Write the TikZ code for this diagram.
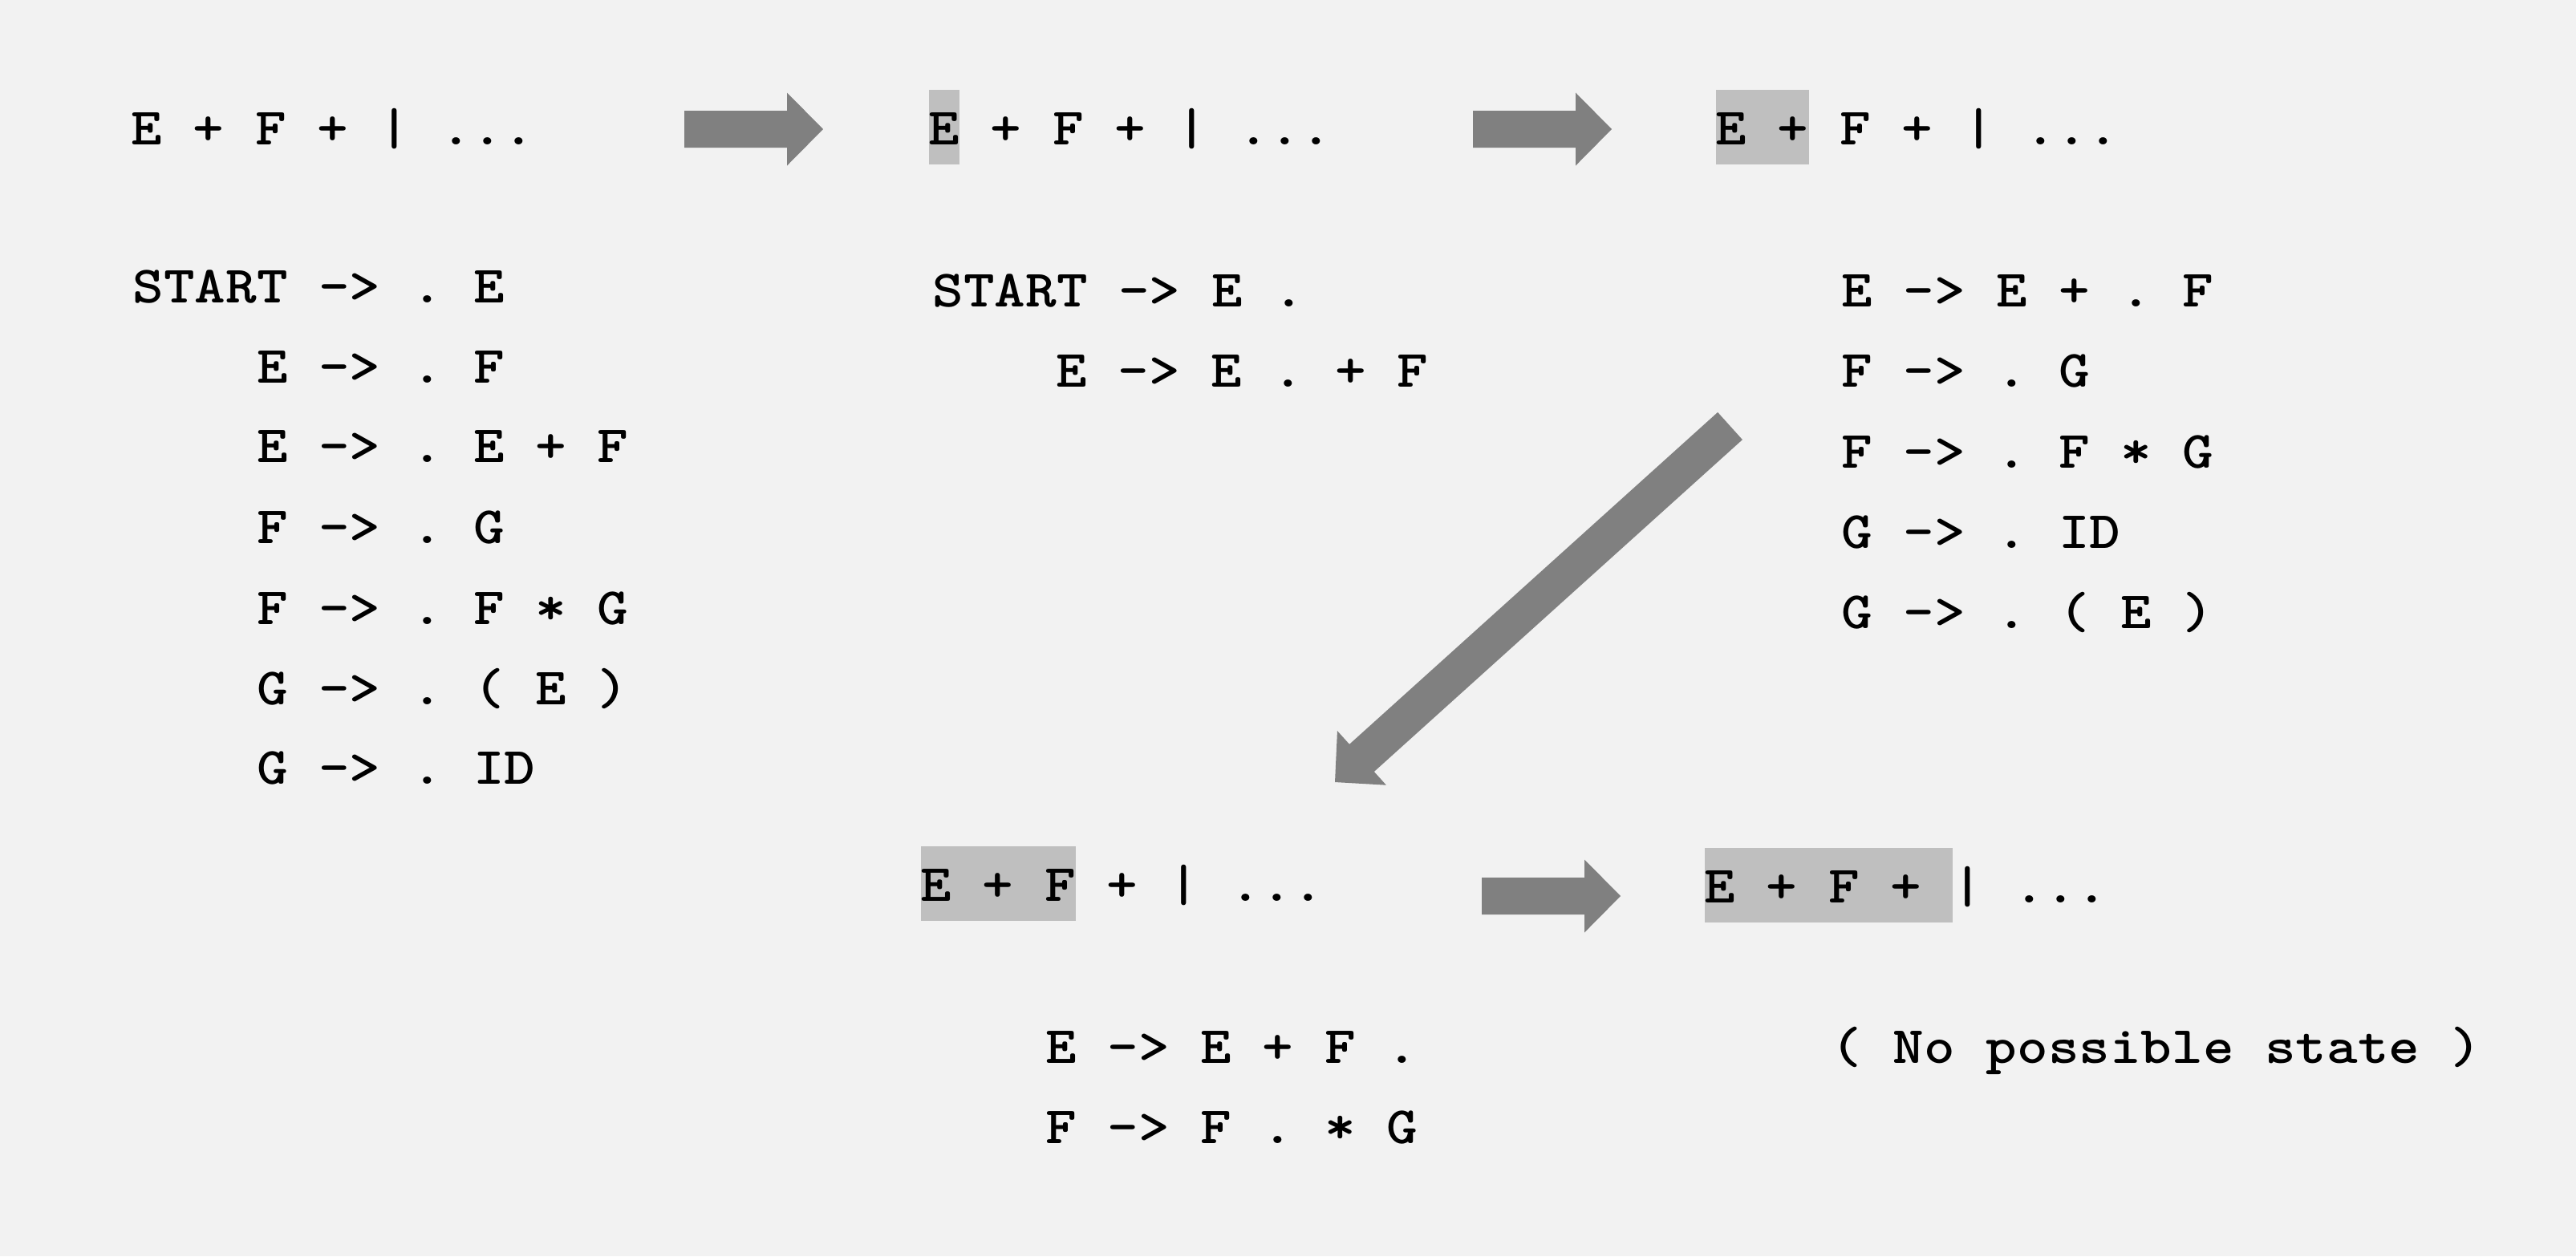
\documentclass[tikz,border=0pt]{standalone}
\usepackage{fontspec}
\usetikzlibrary{calc}
\newfontfamily\codefont{lmmonolt10-bold.otf}[FakeStretch=1.125, WordSpace={1,0,0}, PunctuationSpace=WordSpace]
\definecolor{bgc}{RGB}{242,242,242}
\definecolor{hlc}{RGB}{191,191,191}
\definecolor{arc}{RGB}{128,128,128}
\newcommand\hlx[1]{{\setlength{\fboxsep}{0pt}\colorbox{hlc}{\rule[-0.245cm]{0pt}{0.925cm}#1}}}
\newcommand\blockarrow[2]{%
  \coordinate (#1-hb) at ($(#2)!0.45cm!(#1)$);
  \fill[arc] ($(#1)!0.23cm!90:(#2)$) -- ($(#1-hb)!0.23cm!90:(#2)$) -- ($(#1-hb)!0.455cm!90:(#2)$) -- (#2)
    -- ($(#1-hb)!0.455cm!-90:(#2)$) -- ($(#1-hb)!0.23cm!-90:(#2)$) -- ($(#1)!0.23cm!-90:(#2)$) -- cycle;
}
\begin{document}
\begin{tikzpicture}[
  code/.style={font=\codefont\fontsize{18.6pt}{22pt}\selectfont\frenchspacing, inner sep=0pt, anchor=base west, text=black}]
\fill[bgc] (0,0) rectangle (32.11,-15.66);
\useasboundingbox (0,0) rectangle (32.11,-15.66);
% top row
\node[code] (r1) at (1.63,-1.80) {E + F + | ...};
\node[code] (r2) at (11.57,-1.80) {\hlx{E} + F + | ...};
\node[code] (r3) at (21.38,-1.80) {\hlx{E +} F + | ...};
% left column
\node[code] (l0) at (1.65,-3.77) {START -> . E};
\node[code] (l1) at (3.194,-4.77) {E -> . F};
\node[code] (l2) at (3.194,-5.76) {E -> . E + F};
\node[code] (l3) at (3.194,-6.77) {F -> . G};
\node[code] (l4) at (3.194,-7.78) {F -> . F * G};
\node[code] (l5) at (3.194,-8.78) {G -> . ( E )};
\node[code] (l6) at (3.194,-9.77) {G -> . ID};
% middle column
\node[code] (m0) at (11.62,-3.82) {START -> E .};
\node[code] (m1) at (13.16,-4.82) {E -> E . + F};
% right column
\node[code] (q0) at (22.95,-3.82) {E -> E + . F};
\node[code] (q1) at (22.95,-4.82) {F -> . G};
\node[code] (q2) at (22.95,-5.83) {F -> . F * G};
\node[code] (q3) at (22.95,-6.83) {G -> . ID};
\node[code] (q4) at (22.95,-7.83) {G -> . ( E )};
% bottom
\node[code] (b1) at (11.47,-11.23) {\hlx{E + F} + | ...};
\node[code] (b2) at (21.24,-11.25) {\hlx{E + F + }| ...};
\node[code] (c1) at (13.03,-13.25) {E -> E + F .};
\node[code] (c2) at (13.03,-14.25) {F -> F . * G};
\node[code] (d1) at (22.82,-13.25) {( No possible state )};
% arrows
\coordinate (a1s) at (8.53,-1.61);
\coordinate (a1t) at (10.26,-1.61);
\coordinate (a2s) at (18.36,-1.61);
\coordinate (a2t) at (20.09,-1.61);
\coordinate (a3s) at (21.565,-5.31);
\coordinate (a3t) at (16.64,-9.75);
\coordinate (a4s) at (18.47,-11.17);
\coordinate (a4t) at (20.20,-11.17);
\blockarrow{a1s}{a1t}
\blockarrow{a2s}{a2t}
\blockarrow{a3s}{a3t}
\blockarrow{a4s}{a4t}
\end{tikzpicture}
\end{document}
